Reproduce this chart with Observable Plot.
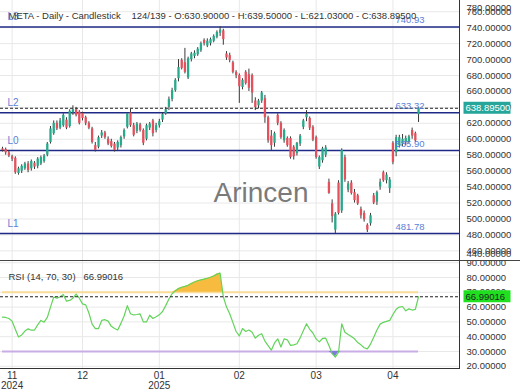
<!DOCTYPE html>
<html><head><meta charset="utf-8">
<script src="https://cdn.jsdelivr.net/npm/d3@7"></script>
<script src="https://cdn.jsdelivr.net/npm/@observablehq/plot@0.6"></script>
<style>
html,body{margin:0;padding:0;background:#fff;}
#chart{position:relative;width:520px;height:390px;overflow:hidden;font-family:"Liberation Sans",Arial,sans-serif;}
#chart svg{position:absolute;left:0;overflow:visible;}
</style></head><body><div id="chart"></div>
<script>
// ---- data ----
const opens = [588,587,583,578,576,557,560,563,569,563,570,566,569,572,580,596,607,620,614,617,624,616,633,637,634,632,627,620,613,592,590,604,608,600,597,594,589,592,603,615,633,617,610,618,611,600,614,623,611,617,624,632,640,650,661,676,699,696,677,700,704,706,711,724,717,720,723,728,733,736,707,705,696,684,680,665,684,681,680,648,642,648,651,627,604,595,630,620,598,601,601,590,582,594,615,627,626,615,602,565,573,580,546,519,486,545,510,577,536,545,533,529,512,507,492,494,529,521,540,558,548,538,595,583,592,594,596,597,611,607,630.9];
const highs = [590,589,585,580,578,565,568,571,572,574,572,577,579,581,596,616,623,623,626,632,627,637,642,640,636,634,629,622,615,596,604,611,610,603,600,596,598,604,613,633,638,620,621,620,613,619,621,625,620,625,633,640,653,664,676,700,701,714,703,709,711,715,722,726,726,727,731,736,740.93,738,710,708,698,686,682,676,686,688,682,652,650,660,655,629,611,609,632,622,613,603,603,592,596,606,625,636,628,617,604,579,590,592,550,524,508,548,588,580,547,548,537,531,515,510,494,507,532,535,550,560,558,552,597,605,605,606,604,605,614,609,639.5];
const lows = [584,580,577,572,556,555,557,561,558,560,562,563,567,570,578,594,605,611,612,615,612,614,630,628,618,623,617,612,594,584,588,601,600,592,589,584,586,589,600,613,615,603,607,609,592,598,611,603,608,614,621,630,636,647,659,672,687,682,675,697,701,704,709,717,715,717,721,726,729,718,699,696,682,676,645,662,668,660,645,636,638,645,620,595,586,590,617,600,595,590,575,574,579,591,612,622,611,597,575,562,570,577,531,495,481.78,505,507,546,533,530,520,517,500,496,483,491,518,517,536,546,544,532,568,578,589,591,592,594,600,596,621.03];
const closes = [586,583,579,575,558,563,566,569,561,572,565,575,577,579,594,613,620,613,623,630,614,635,637,630,620,626,620,614,596,586,602,608,602,594,591,586,596,602,611,632,617,605,619,611,595,617,619,607,617,622,631,637,650,661,674,690,689,684,701,707,708,713,720,720,723,725,729,734,737,725,702,699,684,680,666,674,670,664,658,640,648,658,627,598,592,607,620,602,611,592,577,578,595,604,623,631,614,599,577,577,588,589,532,503,506,507,586,549,544,532,523,519,504,499,486,504,520,533,546,548,555,549,571,602,602,600,601,603,604,598,638.895];
const rsiValues = [53.2,53.0,52.3,50.5,45.0,39.8,41.2,43.8,45.3,44.4,44.5,48.0,51.0,49.8,53.0,60.0,66.7,66.0,67.0,68.5,64.0,64.5,66.0,68.8,66.0,62.2,61.5,56.0,48.5,45.5,45.5,51.0,51.5,50.5,47.0,45.5,44.5,49.0,54.0,61.0,55.5,54.7,55.0,55.4,50.0,50.0,54.5,52.3,53.5,54.8,57.0,61.0,65.5,69.0,71.0,72.5,73.4,74.0,74.7,76.0,77.0,77.8,78.4,78.9,79.5,80.2,81.0,82.3,83.0,67.0,60.0,55.5,49.5,43.5,40.5,45.5,43.5,44.5,43.0,39.0,41.0,42.0,37.0,34.0,30.9,35.8,38.6,33.0,38.5,37.9,34.1,34.5,35.2,39.2,44.0,48.7,45.0,42.5,38.5,36.5,38.8,39.0,34.0,28.5,26.2,29.5,48.7,43.0,41.5,40.2,38.6,36.0,34.5,32.5,31.8,35.0,39.7,44.5,48.5,49.7,50.4,51.0,55.0,58.5,60.0,60.4,57.5,58.8,58.0,58.5,66.99016];
const priceTicks = [460,480,500,520,540,560,580,600,620,640,660,680,700,720,740,760];
const rsiTicks = [20,30,40,50,60,70,80,90];
const monthTickIndex = [3,25,49,74,98,122];
const monthTickLabels = ["11\n2024","12","01\n2025","02","03","04"];
const levelNames = ["L3","L2","L0","L1"];
const levelValues = [740.93,633.32,585.90,481.78];
const levelLabels = ["740.93","633.32","585.90","481.78"];
const rsiBands = [70,30];
const titleLeft = "META - Daily - Candlestick";
const titleRight = "124/139 - O:630.90000 - H:639.50000 - L:621.03000 - C:638.89500";
const rsiTitle = "RSI (14, 70, 30)";

// ---- build ----
const FONT = "'Liberation Sans', Arial, sans-serif";
const GREEN = "#27a98b", RED = "#e5505c";
const N = closes.length;
const candles = closes.map((c,i)=>({i, o:opens[i], h:highs[i], l:lows[i], c}));
const rsiData = rsiValues.map((r,i)=>({i, r}));
const lastClose = closes[N-1];
const lastRsi = rsiValues[N-1];
const levels = levelNames.map((n,k)=>({name:n, value:levelValues[k], label:levelLabels[k]}));
const xDomain = [-0.625, 142.8];
const fmt5 = d3.format(".5f");
const gridColor = "#e8e8e8";

const main = Plot.plot({
  width:520, height:260, marginLeft:0, marginRight:61, marginTop:0, marginBottom:0,
  x:{domain:xDomain, axis:null},
  y:{domain:[447.9, 774.1], axis:null},
  style:{fontFamily:FONT, fontSize:"9.5px", background:"transparent", overflow:"visible"},
  marks:[
    Plot.gridY(priceTicks, {stroke:gridColor, strokeOpacity:1}),
    Plot.gridX(monthTickIndex, {stroke:gridColor, strokeOpacity:1}),
    Plot.axisY(priceTicks, {anchor:"right", tickSize:0, tickPadding:7, tickFormat:fmt5, fill:"#333", label:null}),
    Plot.text(["780.00000"], {text:d=>d, frameAnchor:"top-right", dx:7, dy:4, textAnchor:"start", fill:"#333"}),
    Plot.text(["440.00000"], {text:d=>d, frameAnchor:"bottom-right", dx:7, dy:-4, textAnchor:"start", fill:"#333"}),
    Plot.text(["Arincen"], {text:d=>d, frameAnchor:"middle", dx:31, dy:63, fontSize:28, fill:"#7a7a7a"}),
    Plot.ruleY(levels, {y:"value", stroke:"#1f2a86", strokeWidth:1.4}),
    Plot.ruleY([lastClose], {stroke:"#222", strokeDasharray:"3,2"}),
    Plot.ruleX(candles, {x:"i", y1:"l", y2:"h", stroke:"#3a3a3a", strokeWidth:1}),
    Plot.ruleX(candles, {x:"i", y1:"o", y2:"c", stroke:d=>d.c>=d.o?GREEN:RED, strokeWidth:2.3}),
    Plot.text(levels, {y:"value", text:"name", frameAnchor:"left", dx:7, dy:-10, textAnchor:"start", fill:"#5b7fd6", fontSize:10}),
    Plot.text(levels, {y:"value", text:"label", frameAnchor:"right", dx:-64, dy:-6.5, textAnchor:"start", fill:"#5b7fd6", fontSize:9.5}),
    Plot.text([titleLeft], {text:d=>d, frameAnchor:"top-left", dx:8, dy:12, textAnchor:"start", fill:"#333"}),
    Plot.text([titleRight], {text:d=>d, frameAnchor:"top-left", dx:131, dy:12, textAnchor:"start", fill:"#333"})
  ]
});

const rsiPlot = Plot.plot({
  width:520, height:130, marginLeft:0, marginRight:61, marginTop:0, marginBottom:22,
  x:{domain:xDomain, axis:null},
  y:{domain:[18.5, 91.5], axis:null},
  style:{fontFamily:FONT, fontSize:"9.5px", background:"transparent", overflow:"visible"},
  marks:[
    Plot.gridY(rsiTicks, {stroke:gridColor, strokeOpacity:1}),
    Plot.gridX(monthTickIndex, {stroke:gridColor, strokeOpacity:1}),
    Plot.axisY(rsiTicks, {anchor:"right", tickSize:0, tickPadding:7, tickFormat:fmt5, fill:"#333", label:null}),
    Plot.axisX(monthTickIndex, {anchor:"bottom", tickSize:0, tickPadding:3, tickFormat:(d,k)=>monthTickLabels[k], fill:"#333", label:null, fontSize:10}),
    Plot.ruleY(rsiBands, {x1:0, x2:N-1, stroke:(d)=>d===70?"#f8dc98":"#c9aee6", strokeWidth:2}),
    Plot.areaY(rsiData, {x:"i", y1:70, y2:d=>Math.max(d.r,70), fill:"#f6bb3f"}),
    Plot.areaY(rsiData, {x:"i", y1:d=>Math.min(d.r,30), y2:30, fill:"#8079de"}),
    Plot.lineY(rsiData, {x:"i", y:"r", stroke:"#62d45a", strokeWidth:1.2}),
    Plot.ruleY([lastRsi], {stroke:"#222", strokeDasharray:"3,2"}),
    Plot.text([rsiTitle], {text:d=>d, frameAnchor:"top-left", dx:8, dy:13, textAnchor:"start", fill:"#333"}),
    Plot.text([lastRsi], {text:d=>fmt5(d), frameAnchor:"top-left", dx:83, dy:13, textAnchor:"start", fill:"#333"})
  ]
});

const chart = document.getElementById("chart");
main.style.top = "0px";
rsiPlot.style.top = "260px";
chart.appendChild(main);
chart.appendChild(rsiPlot);

// frame lines and value boxes
const ms = d3.select(main), rs = d3.select(rsiPlot);
ms.append("line").attr("x1",459.5).attr("x2",459.5).attr("y1",0).attr("y2",260).attr("stroke","#333");
rs.append("line").attr("x1",0).attr("x2",520).attr("y1",0.5).attr("y2",0.5).attr("stroke","#444");
rs.append("line").attr("x1",459.5).attr("x2",459.5).attr("y1",0).attr("y2",108).attr("stroke","#333");
rs.append("line").attr("x1",0).attr("x2",460).attr("y1",108.5).attr("y2",108.5).attr("stroke","#333");

function box(sel, y, txt, bg, fg){
  sel.append("rect").attr("x",463.5).attr("y",y-6).attr("width",47).attr("height",12).attr("fill",bg);
  sel.append("text").attr("x",465.5).attr("y",y).attr("dy","0.35em").attr("fill",fg)
    .attr("text-anchor","start").attr("font-family",FONT).attr("font-size","9.5px").text(txt);
}
box(ms, main.scale("y").apply(lastClose), fmt5(lastClose), "#26a69a", "#fff");
box(rs, rsiPlot.scale("y").apply(lastRsi), fmt5(lastRsi), "#1fe01f", "#222");
</script></body></html>
